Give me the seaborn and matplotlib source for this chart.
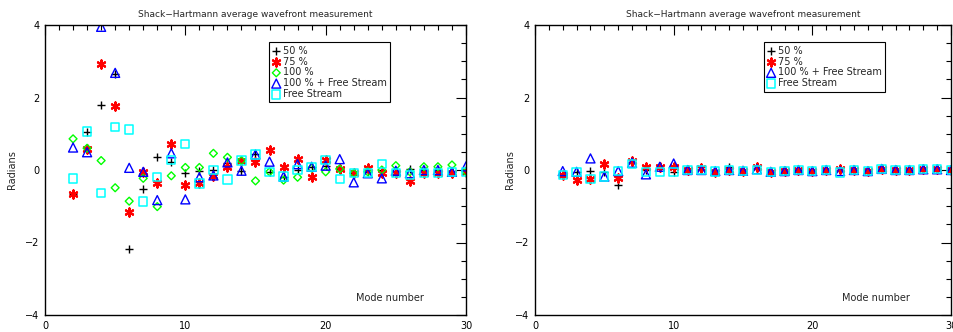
import numpy as np
import pandas as pd
import matplotlib
matplotlib.use("Agg")
import matplotlib.pyplot as plt
from matplotlib import font_manager
import seaborn as sns
from matplotlib.ticker import MultipleLocator

modes = list(range(2, 31))

# Left panel
left_50 = [-0.65, 1.06, 1.79, 2.65, -2.17, -0.52, 0.35, 0.23, -0.07, -0.02, 0.0, 0.2, -0.02, 0.43,
           -0.05, -0.18, 0.0, 0.09, 0.12, 0.03, -0.09, -0.05, 0.0, -0.05, 0.04, 0.0, 0.0, -0.05, 0.0]
left_75 = [-0.65, 0.58, 2.92, 1.77, -1.15, -0.05, -0.35, 0.72, -0.41, -0.37, -0.17, 0.09, 0.26, 0.21,
           0.55, 0.09, 0.3, -0.18, 0.28, 0.03, -0.09, 0.05, -0.09, -0.09, -0.3, -0.09, -0.09, -0.08, -0.05]
left_100 = [0.86, 0.6, 0.26, -0.49, -0.86, -0.23, -1.01, -0.16, 0.07, 0.07, 0.46, 0.35, 0.26, -0.3,
            -0.05, -0.28, -0.2, 0.05, -0.05, 0.03, -0.09, -0.05, 0.0, 0.12, -0.05, 0.09, 0.09, 0.14, -0.05]
left_100fs = [0.62, 0.49, 3.95, 2.68, 0.06, -0.05, -0.83, 0.46, -0.81, -0.2, -0.15, 0.21, -0.02, 0.43,
              0.23, -0.18, 0.16, 0.09, 0.12, 0.3, -0.34, -0.09, -0.23, -0.02, -0.09, 0.0, 0.0, -0.05, 0.1]
left_fs = [-0.23, 1.06, -0.63, 1.18, 1.12, -0.87, -0.2, 0.28, 0.71, -0.37, 0.0, -0.26, 0.26, 0.43,
           -0.05, -0.18, 0.0, 0.08, 0.28, -0.25, -0.09, -0.09, 0.16, -0.09, -0.14, -0.09, -0.09, -0.05, -0.05]

# Right panel
right_50 = [-0.1, -0.05, -0.02, -0.06, -0.4, 0.18, 0.0, 0.05, -0.06, 0.0, 0.0, -0.03, 0.09, -0.02,
            0.02, -0.05, -0.03, 0.0, -0.03, 0.0, -0.02, 0.0, -0.03, 0.03, 0.0, 0.0, 0.02, 0.02, 0.0]
right_75 = [-0.14, -0.28, -0.25, 0.17, -0.21, 0.24, 0.09, 0.09, 0.09, 0.0, 0.06, -0.06, 0.0, -0.03,
            0.09, -0.06, -0.03, 0.0, -0.03, 0.0, 0.03, 0.0, -0.03, 0.03, 0.0, 0.0, 0.02, 0.02, 0.0]
right_100fs = [-0.03, -0.05, 0.32, -0.18, -0.03, 0.2, -0.12, 0.09, 0.18, 0.0, 0.0, -0.03, 0.0, -0.02,
               0.02, -0.05, -0.03, 0.0, -0.03, 0.0, -0.03, 0.0, -0.03, 0.03, 0.0, 0.0, 0.02, 0.02, 0.0]
right_fs = [-0.14, -0.05, -0.25, -0.18, -0.03, 0.17, -0.05, -0.06, -0.06, 0.0, 0.0, -0.04, 0.0, -0.03,
            0.0, -0.06, -0.03, 0.0, -0.03, 0.0, -0.07, 0.0, -0.03, 0.03, 0.0, 0.0, 0.02, 0.02, 0.0]

title = "Shack\u2212Hartmann average wavefront measurement"
xlabel_txt = "Mode number"
ylabel_txt = "Radians"

sns.set_style("white")
available = {f.name for f in font_manager.fontManager.ttflist}
if "Liberation Sans Narrow" in available:
    fam = ["Liberation Sans Narrow", "DejaVu Sans"]
    fs_title, fs_txt, fs_leg = 8.0, 8.0, 8.5
else:
    fam = ["DejaVu Sans"]
    fs_title, fs_txt, fs_leg = 6.5, 7.0, 7.0
plt.rcParams["font.family"] = fam

W, H = 954, 332
fig = plt.figure(figsize=(W / 100, H / 100), dpi=100)

def ax_rect(x0, x1, ytop, ybot):
    return [x0 / W, (H - ybot) / H, (x1 - x0) / W, (ybot - ytop) / H]

axL = fig.add_axes(ax_rect(45, 466, 25, 315))
axR = fig.add_axes(ax_rect(535, 951, 25, 315))

styles = {
    "50 %": dict(marker="+", s=28, color="black", linewidth=1.0),
    "75 %": dict(marker=(6, 2, 0), s=34, color="#ff0000", linewidth=1.6),
    "100 %": dict(marker="D", s=16, color="#00ff00", facecolor="none", edgecolor="#00ff00", linewidth=1.0),
    "100 % + Free Stream": dict(marker="^", s=42, color="#0000ff", facecolor="none", edgecolor="#0000ff", linewidth=1.0),
    "Free Stream": dict(marker="s", s=36, color="#00ffff", facecolor="none", edgecolor="#00ffff", linewidth=1.1),
}

left_series = [("50 %", left_50), ("75 %", left_75), ("100 %", left_100),
               ("100 % + Free Stream", left_100fs), ("Free Stream", left_fs)]
right_series = [("50 %", right_50), ("75 %", right_75),
                ("100 % + Free Stream", right_100fs), ("Free Stream", right_fs)]

for ax, series, lx in [(axL, left_series, 0.532), (axR, right_series, 0.55)]:
    for name, vals in series:
        df = pd.DataFrame({"mode": modes, "val": vals})
        sns.scatterplot(data=df, x="mode", y="val", ax=ax, label=name, **styles[name])
    ax.set_xlim(0, 30)
    ax.set_ylim(-4, 4)
    ax.set_xlabel("")
    ax.set_ylabel("")
    ax.xaxis.set_major_locator(MultipleLocator(10))
    ax.xaxis.set_minor_locator(MultipleLocator(1))
    ax.yaxis.set_major_locator(MultipleLocator(2))
    ax.yaxis.set_minor_locator(MultipleLocator(0.5))
    ax.tick_params(which="both", direction="in", top=True, right=True, colors="black",
                   labelsize=fs_txt, width=0.8)
    ax.tick_params(which="major", length=7, pad=4)
    ax.tick_params(which="minor", length=3.5)
    for sp in ax.spines.values():
        sp.set_color("black")
        sp.set_linewidth(1.0)
    ax.set_title(title, fontsize=fs_title, pad=6)
    ax.text(0.82, 0.06, xlabel_txt, transform=ax.transAxes, fontsize=fs_txt, ha="center", va="center")
    leg = ax.legend(loc="upper left", bbox_to_anchor=(lx, 0.94), fontsize=fs_leg, frameon=True,
                    fancybox=False, edgecolor="black", framealpha=1, borderpad=0.35,
                    labelspacing=0.08, handletextpad=0.3, handlelength=0.8, borderaxespad=0)
    leg.get_frame().set_linewidth(0.8)

fig.text(12 / W, (H - 170) / H, ylabel_txt, rotation=90, fontsize=fs_txt, ha="center", va="center")
fig.text(510 / W, (H - 170) / H, ylabel_txt, rotation=90, fontsize=fs_txt, ha="center", va="center")

fig.savefig("out.png", dpi=100, facecolor="white")
